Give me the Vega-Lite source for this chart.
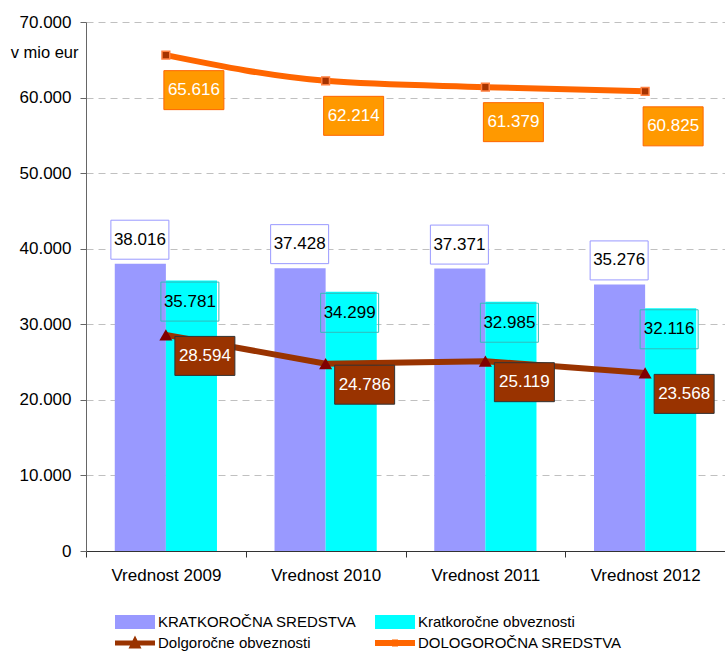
{
  "$schema": "https://vega.github.io/schema/vega-lite/v6.json",
  "width": 639,
  "height": 529,
  "autosize": {"type": "none"},
  "padding": {"left": 86, "top": 22, "right": 0, "bottom": 108},
  "background": "white",
  "config": {
    "view": {"stroke": null},
    "font": "Liberation Sans",
    "locale": {"number": {"decimal": ",", "thousands": ".", "grouping": [3], "currency": ["", " €"]}}
  },
  "data": {
    "values": [
      {"year": "Vrednost 2009", "series": "KRATKOROČNA SREDSTVA", "value": 38016},
      {"year": "Vrednost 2009", "series": "Kratkoročne obveznosti", "value": 35781},
      {"year": "Vrednost 2009", "series": "Dolgoročne obveznosti", "value": 28594},
      {"year": "Vrednost 2009", "series": "DOLOGOROČNA SREDSTVA", "value": 65616},
      {"year": "Vrednost 2010", "series": "KRATKOROČNA SREDSTVA", "value": 37428},
      {"year": "Vrednost 2010", "series": "Kratkoročne obveznosti", "value": 34299},
      {"year": "Vrednost 2010", "series": "Dolgoročne obveznosti", "value": 24786},
      {"year": "Vrednost 2010", "series": "DOLOGOROČNA SREDSTVA", "value": 62214},
      {"year": "Vrednost 2011", "series": "KRATKOROČNA SREDSTVA", "value": 37371},
      {"year": "Vrednost 2011", "series": "Kratkoročne obveznosti", "value": 32985},
      {"year": "Vrednost 2011", "series": "Dolgoročne obveznosti", "value": 25119},
      {"year": "Vrednost 2011", "series": "DOLOGOROČNA SREDSTVA", "value": 61379},
      {"year": "Vrednost 2012", "series": "KRATKOROČNA SREDSTVA", "value": 35276},
      {"year": "Vrednost 2012", "series": "Kratkoročne obveznosti", "value": 32116},
      {"year": "Vrednost 2012", "series": "Dolgoročne obveznosti", "value": 23568},
      {"year": "Vrednost 2012", "series": "DOLOGOROČNA SREDSTVA", "value": 60825}
    ]
  },
  "encoding": {
    "x": {
      "field": "year", "type": "nominal", "sort": null,
      "scale": {"paddingInner": 0, "paddingOuter": 0},
      "axis": {
        "title": null, "labelAngle": 0, "labelFontSize": 17, "labelColor": "black",
        "tickBand": "extent", "tickSize": 6, "labelPadding": 10,
        "domainColor": "#333333", "tickColor": "#333333", "grid": false
      }
    },
    "y": {
      "field": "value", "type": "quantitative",
      "scale": {"domain": [0, 70000]},
      "axis": {
        "title": "v mio eur", "titleAngle": 0, "titleAlign": "right", "titleBaseline": "middle",
        "titleX": -8, "titleY": 30, "titleFontSize": 16.5, "titleFontWeight": "normal", "titleColor": "black",
        "format": ",d", "values": [0, 10000, 20000, 30000, 40000, 50000, 60000, 70000],
        "labelFontSize": 17, "labelColor": "black", "labelPadding": 9, "tickSize": 6,
        "tickColor": "#666666", "domainColor": "#666666",
        "grid": true, "gridColor": "#C0C0C0", "gridDash": [7, 5]
      }
    }
  },
  "layer": [
    {
      "transform": [{"filter": "datum.series == 'KRATKOROČNA SREDSTVA' || datum.series == 'Kratkoročne obveznosti'"}],
      "mark": {"type": "bar", "opacity": 1},
      "encoding": {
        "xOffset": {"field": "series", "type": "nominal", "sort": ["KRATKOROČNA SREDSTVA", "Kratkoročne obveznosti"],
          "scale": {"paddingInner": 0, "paddingOuter": 0.563}},
        "color": {
          "field": "series", "type": "nominal",
          "scale": {
            "domain": ["KRATKOROČNA SREDSTVA", "Kratkoročne obveznosti", "Dolgoročne obveznosti", "DOLOGOROČNA SREDSTVA"],
            "range": ["#9999FF", "#00FFFF", "#993300", "#FF6600"]
          },
          "legend": {
            "title": null, "orient": "none", "legendX": 29, "legendY": 590,
            "direction": "horizontal", "columns": 2,
            "labelFontSize": 15, "labelColor": "black", "labelFont": "Liberation Sans",
            "symbolSize": 400, "labelOffset": 23, "rowPadding": 3, "columnPadding": 18,
            "labelLimit": 400, "symbolStrokeWidth": 0, "symbolOpacity": 1,
            "symbolType": {"expr": "datum.value === 'Dolgoročne obveznosti' ? 'M-1,-0.25H3V0.25H-1Z M0.35,0.55L1,-0.75L1.65,0.55Z' : (datum.value === 'DOLOGOROČNA SREDSTVA' ? 'M-1,-0.3H3V0.3H-1Z M0.7,-0.35H1.3V0.35H0.7Z' : 'M-1,-0.7H3V0.7H-1Z')"}
          }
        }
      }
    },
    {
      "transform": [{"filter": "datum.series == 'Dolgoročne obveznosti'"}],
      "mark": {"type": "line", "strokeWidth": 6},
      "encoding": {"color": {"field": "series", "type": "nominal"}}
    },
    {
      "transform": [{"filter": "datum.series == 'DOLOGOROČNA SREDSTVA'"}],
      "mark": {"type": "line", "strokeWidth": 6, "interpolate": "monotone"},
      "encoding": {"color": {"field": "series", "type": "nominal"}}
    },
    {
      "transform": [{"filter": "datum.series == 'Dolgoročne obveznosti'"}],
      "mark": {"type": "point", "shape": "triangle-up", "filled": true, "size": 170, "color": "#800000", "opacity": 1},
      "encoding": {}
    },
    {
      "transform": [{"filter": "datum.series == 'DOLOGOROČNA SREDSTVA'"}],
      "mark": {"type": "square", "size": 60, "color": "#A63300", "stroke": "#FF8040", "strokeWidth": 1.5, "opacity": 1},
      "encoding": {}
    },
    {
      "transform": [{"filter": "datum.series == 'KRATKOROČNA SREDSTVA'"}],
      "mark": {"type": "rect", "width": 58, "height": 39, "xOffset": -26, "yOffset": -24, "fill": "white", "stroke": "#9999FF", "strokeWidth": 1},
      "encoding": {}
    },
    {
      "transform": [{"filter": "datum.series == 'KRATKOROČNA SREDSTVA'"}],
      "mark": {"type": "text", "xOffset": -26, "yOffset": -24, "fontSize": 17, "color": "black", "baseline": "middle", "align": "center"},
      "encoding": {"text": {"field": "value", "type": "quantitative", "format": ",d"}}
    },
    {
      "transform": [{"filter": "datum.series == 'Kratkoročne obveznosti'"}],
      "mark": {"type": "rect", "width": 58, "height": 39, "xOffset": 24, "yOffset": 21, "fill": "transparent", "stroke": "#33BBBB", "strokeWidth": 1},
      "encoding": {}
    },
    {
      "transform": [{"filter": "datum.series == 'Kratkoročne obveznosti'"}],
      "mark": {"type": "text", "xOffset": 24, "yOffset": 21, "fontSize": 17, "color": "black", "baseline": "middle", "align": "center"},
      "encoding": {"text": {"field": "value", "type": "quantitative", "format": ",d"}}
    },
    {
      "transform": [{"filter": "datum.series == 'Dolgoročne obveznosti'"}],
      "mark": {"type": "rect", "width": 60, "height": 39, "xOffset": 39, "yOffset": 21, "fill": "#993300", "stroke": "#333333", "strokeWidth": 1},
      "encoding": {}
    },
    {
      "transform": [{"filter": "datum.series == 'Dolgoročne obveznosti'"}],
      "mark": {"type": "text", "xOffset": 39, "yOffset": 21, "fontSize": 17, "color": "white", "baseline": "middle", "align": "center"},
      "encoding": {"text": {"field": "value", "type": "quantitative", "format": ",d"}}
    },
    {
      "transform": [{"filter": "datum.series == 'DOLOGOROČNA SREDSTVA'"}],
      "mark": {"type": "rect", "width": 60, "height": 39, "xOffset": 28, "yOffset": 35, "fill": "#FF9900", "stroke": "#FF6600", "strokeWidth": 1},
      "encoding": {}
    },
    {
      "transform": [{"filter": "datum.series == 'DOLOGOROČNA SREDSTVA'"}],
      "mark": {"type": "text", "xOffset": 28, "yOffset": 35, "fontSize": 17, "color": "white", "baseline": "middle", "align": "center"},
      "encoding": {"text": {"field": "value", "type": "quantitative", "format": ",d"}}
    }
  ]
}
